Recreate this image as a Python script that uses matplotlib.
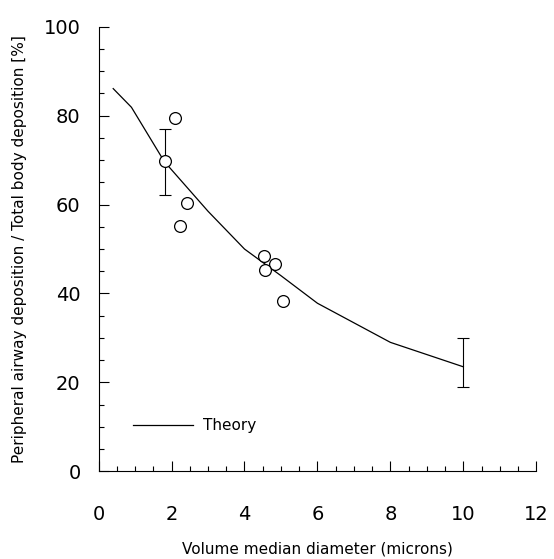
import numpy as np
import matplotlib
matplotlib.use('Agg')
import matplotlib.pyplot as plt
from matplotlib.ticker import MultipleLocator

plt.rcParams['font.family'] = ['DejaVu Sans']

# measured points (hollow circles)
vmd = [1.82, 2.09, 2.42, 2.22, 4.54, 4.83, 4.55, 5.05]
dep = [69.7, 79.5, 60.4, 55.1, 48.4, 46.7, 45.2, 38.3]

# theory curve
th_x = [0.4, 0.9, 1.8, 3.0, 4.0, 5.0, 6.0, 8.0, 10.0]
th_y = [86.1, 81.9, 69.7, 58.5, 50.0, 44.0, 37.8, 29.0, 23.5]

# error bars
err_x = [1.82, 10.0]
err_y = [69.7, 23.5]
err_lo = [7.5, 4.5]
err_hi = [7.2, 6.5]

fig = plt.figure(figsize=(5.54, 5.59), dpi=100)
ax = fig.add_axes([0.178, 0.157, 0.79, 0.795])

ax.plot(th_x, th_y, color='black', lw=0.9)
ax.errorbar(err_x, err_y, yerr=[err_lo, err_hi], fmt='none', ecolor='black',
            elinewidth=0.8, capsize=4.3, capthick=0.8)
ax.plot(vmd, dep, 'o', ms=8.5, mfc='white', mec='black', mew=0.9)

# legend drawn by hand like the original
ax.plot([0.95, 2.6], [10.4, 10.4], color='black', lw=0.9)
ax.text(2.85, 10.4, 'Theory', fontsize=11, va='center', ha='left')

ax.set_xlim(0, 12)
ax.set_ylim(0, 100)
ax.spines['top'].set_visible(False)
ax.spines['right'].set_visible(False)
ax.spines['left'].set_linewidth(0.8)
ax.spines['bottom'].set_linewidth(0.8)

ax.xaxis.set_major_locator(MultipleLocator(2))
ax.xaxis.set_minor_locator(MultipleLocator(0.5))
ax.yaxis.set_major_locator(MultipleLocator(20))
ax.yaxis.set_minor_locator(MultipleLocator(5))
ax.tick_params(which='both', direction='in', width=0.8)
ax.tick_params(which='major', length=7)
ax.tick_params(which='minor', length=3.5)
ax.tick_params(axis='x', which='major', pad=24, labelsize=14)
ax.tick_params(axis='y', which='major', pad=13, labelsize=14)

ax.set_xlabel('Volume median diameter (microns)', fontsize=11, labelpad=13)
ax.set_ylabel('Peripheral airway deposition / Total body deposition [%]', fontsize=11, labelpad=12)

fig.savefig('out.png', dpi=100)
